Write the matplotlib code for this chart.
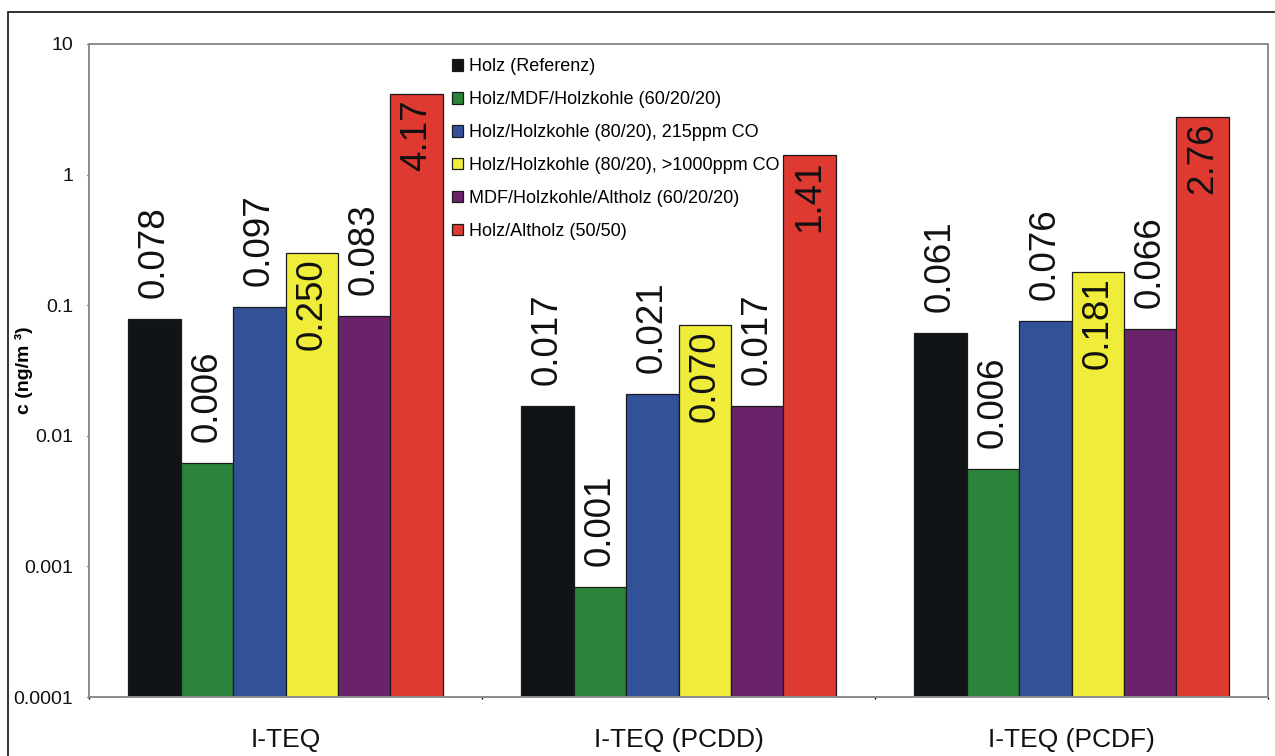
import matplotlib
matplotlib.use("Agg")
import matplotlib.pyplot as plt
import numpy as np
from matplotlib.patches import Rectangle

plt.rcParams['font.family'] = ['Liberation Sans', 'DejaVu Sans']

categories = ["I-TEQ", "I-TEQ (PCDD)", "I-TEQ (PCDF)"]
series_names = [
    "Holz (Referenz)",
    "Holz/MDF/Holzkohle (60/20/20)",
    "Holz/Holzkohle (80/20), 215ppm CO",
    "Holz/Holzkohle (80/20), >1000ppm CO",
    "MDF/Holzkohle/Altholz (60/20/20)",
    "Holz/Altholz (50/50)",
]
holz_referenz = [0.078, 0.017, 0.061]
holz_mdf_holzkohle = [0.0062, 0.0007, 0.0056]
holz_holzkohle_215 = [0.097, 0.021, 0.076]
holz_holzkohle_1000 = [0.250, 0.070, 0.181]
mdf_holzkohle_altholz = [0.083, 0.017, 0.066]
holz_altholz = [4.17, 1.41, 2.76]
series_values = [holz_referenz, holz_mdf_holzkohle, holz_holzkohle_215,
                 holz_holzkohle_1000, mdf_holzkohle_altholz, holz_altholz]
colors = ["#111417", "#2a853a", "#325199", "#efed3a", "#6a226a", "#de3a32"]
inside_label = [False, False, False, True, False, True]

ytick_values = [0.0001, 0.001, 0.01, 0.1, 1, 10]
ytick_labels = ["0.0001", "0.001", "0.01", "0.1", "1", "10"]

fig = plt.figure(figsize=(12.75, 7.56), dpi=100)
ax = fig.add_axes([89/1275, 1-697/756, (1268-89)/1275, (697-44)/756])
ax.set_yscale('log')
ax.set_ylim(1e-4, 10)
ax.set_xlim(-0.5, 2.5)

n = len(series_values)
w = 0.8 / n
x = np.arange(len(categories))
for j, (vals, name, col) in enumerate(zip(series_values, series_names, colors)):
    xs = x + (j - (n - 1) / 2) * w
    ax.bar(xs, vals, width=w, color=col, edgecolor='#1a1a1a',
           linewidth=0.9, label=name, zorder=2)
    for xi, v in zip(xs, vals):
        txt = f"{v:.3f}" if v < 1 else f"{v:.2f}"
        if inside_label[j]:
            ax.annotate(txt, (xi, v), xytext=(0, -4), textcoords='offset points',
                        rotation=90, ha='center', va='top', fontsize=26.5,
                        color='#111111', zorder=3)
        else:
            ax.annotate(txt, (xi, v), xytext=(0, 15), textcoords='offset points',
                        rotation=90, ha='center', va='bottom', fontsize=26.5,
                        color='#111111', zorder=3)

ax.set_yticks(ytick_values)
ax.set_yticklabels(ytick_labels)
ax.yaxis.set_minor_locator(matplotlib.ticker.NullLocator())
ax.tick_params(axis='y', which='major', length=1.5, width=1, pad=10,
               labelsize=14, colors='#111111')

ax.set_xticks([-0.5, 0.5, 1.5, 2.5])
ax.set_xticklabels([])
ax.set_xticks(x, minor=True)
ax.set_xticklabels(categories, minor=True)
ax.tick_params(axis='x', which='major', length=1.5, width=1)
ax.tick_params(axis='x', which='minor', length=0, pad=22, labelsize=19,
               labelcolor='#111111')

for s in ax.spines.values():
    s.set_color('#8c8c8c')
    s.set_linewidth(1.4)

ax.set_ylabel("c (ng/m \u00b3)", fontsize=14, fontweight='bold')
ax.yaxis.set_label_coords(-(89-33)/1179, 0.5)

leg = ax.legend(loc='upper left', bbox_to_anchor=(0.308, 0.978), frameon=False,
                fontsize=13, labelspacing=0.88, handlelength=0.6,
                handleheight=0.6, handletextpad=0.35, borderpad=0,
                borderaxespad=0)

fig.patches.append(Rectangle((8/1275, -0.2), 1.2, 1.2 - 12/756,
                             transform=fig.transFigure, fill=False,
                             edgecolor='#111111', linewidth=1.2))

fig.savefig("out.png", dpi=100)
